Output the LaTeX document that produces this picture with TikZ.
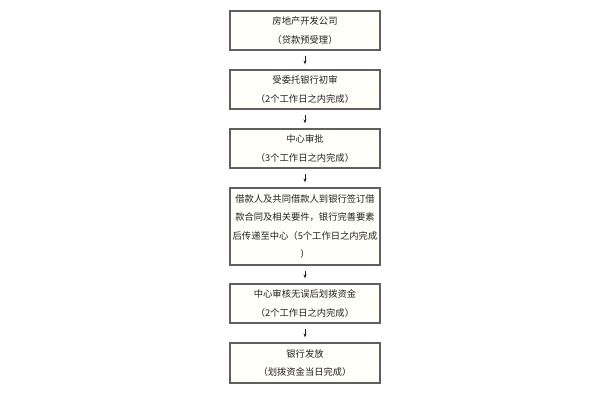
\documentclass[tikz,border=0pt]{standalone}
\usepackage{fontspec}
\newfontfamily\cjk{Noto Sans CJK SC}
\usetikzlibrary{arrows.meta}
\definecolor{bordergray}{HTML}{606060}
\definecolor{boxfill}{HTML}{FFFEF9}
\definecolor{txt}{HTML}{222222}
\begin{document}
\begin{tikzpicture}[x=1pt,y=-1pt,
  stepbox/.style={draw=bordergray, line width=1.3pt, fill=boxfill, minimum width=150pt, text width=146pt, align=center, inner sep=0pt, font=\cjk\fontsize{9.3}{18.2}\selectfont, text=txt},
  flowarrow/.style={draw=txt, line width=0.6pt, -{Stealth[length=4pt,width=3pt]}}]
\useasboundingbox (0,0) rectangle (600,400);
\fill[white] (0,0) rectangle (600,400);
\node[stepbox, minimum height=39pt] (b1) at (305,30.5) {房地产开发公司\\（贷款预受理）};
\node[stepbox, minimum height=39pt] (b2) at (305,89.5) {受委托银行初审\\（2个工作日之内完成）};
\node[stepbox, minimum height=39pt] (b3) at (305,148.5) {中心审批\\（3个工作日之内完成）};
\node[stepbox, minimum height=77pt] (b4) at (305,226.5) {借款人及共同借款人到银行签订借\\款合同及相关要件，银行完善要素\\后传递至中心（5个工作日之内完成\\）};
\node[stepbox, minimum height=39pt] (b5) at (305,303.5) {中心审核无误后划拨资金\\（2个工作日之内完成）};
\node[stepbox, minimum height=40pt] (b6) at (305,363) {银行发放\\（划拨资金当日完成）};
\foreach \a/\b in {b1/b2,b2/b3,b3/b4,b4/b5,b5/b6}{
  \draw[flowarrow] ([yshift=-5pt]\a.south) -- ([yshift=5pt]\b.north);
}
\end{tikzpicture}
\end{document}
